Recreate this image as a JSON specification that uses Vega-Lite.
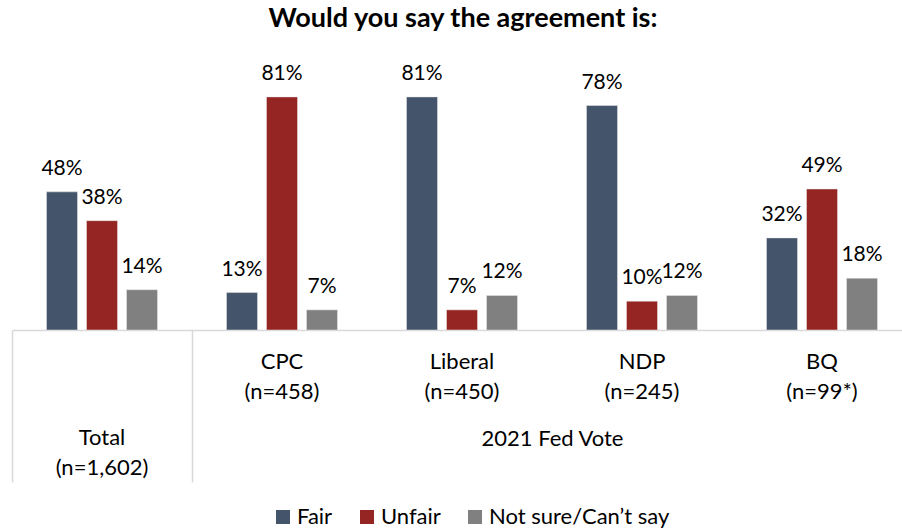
{
  "$schema": "https://vega.github.io/schema/vega-lite/v6.json",
  "width": 890,
  "height": 259,
  "autosize": {"type": "none"},
  "padding": {"left": 12, "top": 71, "right": 0, "bottom": 199},
  "background": "white",
  "config": {"view": {"stroke": null}, "font": "Lato"},
  "title": {"text": "Would you say the agreement is:", "font": "Lato", "fontSize": 27, "fontWeight": "bold", "color": "#000000", "anchor": "middle", "dx": 6, "offset": 9, "baseline": "alphabetic"},
  "data": {"values": [
    {"group": "Total (n=1,602)", "series": "Fair", "value": 0.48},
    {"group": "Total (n=1,602)", "series": "Unfair", "value": 0.38},
    {"group": "Total (n=1,602)", "series": "Not sure/Can’t say", "value": 0.14},
    {"group": "CPC (n=458)", "series": "Fair", "value": 0.13},
    {"group": "CPC (n=458)", "series": "Unfair", "value": 0.81},
    {"group": "CPC (n=458)", "series": "Not sure/Can’t say", "value": 0.07},
    {"group": "Liberal (n=450)", "series": "Fair", "value": 0.81},
    {"group": "Liberal (n=450)", "series": "Unfair", "value": 0.07},
    {"group": "Liberal (n=450)", "series": "Not sure/Can’t say", "value": 0.12},
    {"group": "NDP (n=245)", "series": "Fair", "value": 0.78},
    {"group": "NDP (n=245)", "series": "Unfair", "value": 0.10},
    {"group": "NDP (n=245)", "series": "Not sure/Can’t say", "value": 0.12},
    {"group": "BQ (n=99*)", "series": "Fair", "value": 0.32},
    {"group": "BQ (n=99*)", "series": "Unfair", "value": 0.49},
    {"group": "BQ (n=99*)", "series": "Not sure/Can’t say", "value": 0.18}
  ]},
  "encoding": {
    "x": {"field": "group", "type": "nominal", "sort": null,
      "scale": {"range": [0, 900], "paddingInner": 0, "paddingOuter": 0},
      "axis": {
        "title": "2021 Fed Vote", "titleFont": "Lato", "titleFontSize": 22, "titleFontWeight": "normal", "titleColor": "#000000",
        "titleX": 540, "titleY": 108, "titleBaseline": "middle", "titleAlign": "center", "titleAnchor": null,
        "labelAngle": 0, "labelFont": "Lato", "labelFontSize": 22, "labelColor": "#000000",
        "labelExpr": "split(datum.label, ' ')", "labelLineHeight": 30,
        "bandPosition": 0, "labelOffset": 0,
        "labelPadding": {"condition": {"test": "datum.value == 'Total (n=1,602)'", "value": -55}, "value": -131},
        "tickSize": 152, "tickWidth": 1.5,
        "tickColor": {"condition": {"test": "datum.value == 'Total (n=1,602)' || datum.value == 'CPC (n=458)'", "value": "#d9d9d9"}, "value": "transparent"},
        "domainColor": "#d9d9d9", "domainWidth": 1.5
      }},
    "xOffset": {"field": "series", "type": "nominal", "sort": ["Fair", "Unfair", "Not sure/Can’t say"],
      "scale": {"paddingInner": 0.225, "paddingOuter": 0.8625}},
    "y": {"field": "value", "type": "quantitative", "scale": {"domain": [0, 0.9]}, "axis": null}
  },
  "layer": [
    {"mark": {"type": "bar", "stroke": "#e8e8e8", "strokeWidth": 0.5},
     "encoding": {
       "color": {"field": "series", "type": "nominal", "sort": ["Fair", "Unfair", "Not sure/Can’t say"],
         "scale": {"domain": ["Fair", "Unfair", "Not sure/Can’t say"], "range": ["#44546A", "#952522", "#808080"]},
         "legend": {"title": null, "orient": "none", "legendX": 260, "legendY": 435, "direction": "horizontal",
           "symbolType": "square", "symbolSize": 196, "symbolStrokeWidth": 0,
           "labelFont": "Lato", "labelFontSize": 22, "labelColor": "#000000", "labelOffset": 3, "columnPadding": 23, "labelLimit": 300}}
     }},
    {"mark": {"type": "text", "font": "Lato", "fontSize": 21, "color": "#000000", "baseline": "alphabetic", "dy": -17},
     "encoding": {"text": {"field": "value", "type": "quantitative", "format": ".0%"},
       "detail": {"field": "series"}}}
  ]
}
